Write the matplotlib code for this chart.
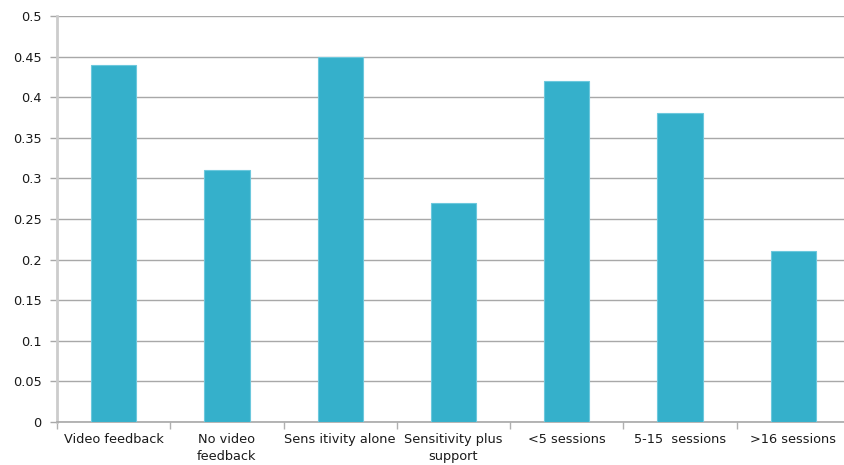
import matplotlib.pyplot as plt
import numpy as np

# Effect sizes by intervention group
categories = ['Video feedback', 'No video\nfeedback', 'Sens itivity alone',
              'Sensitivity plus\nsupport', '<5 sessions', '5-15  sessions',
              '>16 sessions']
effect = [0.44, 0.31, 0.45, 0.27, 0.42, 0.38, 0.21]
yticks = [0, 0.05, 0.1, 0.15, 0.2, 0.25, 0.3, 0.35, 0.4, 0.45, 0.5]
ytick_labels = ['0', '0.05', '0.1', '0.15', '0.2', '0.25', '0.3', '0.35',
                '0.4', '0.45', '0.5']

W, H = 844, 465
fig = plt.figure(figsize=(W / 100, H / 100), dpi=100)
ax = fig.add_axes([57 / W, 43 / H, 793 / W, 406 / H])

x = np.arange(len(categories))
ax.bar(x, effect, width=0.4, color='#35b0cb', edgecolor='#6cc8dd',
       linewidth=0.8, zorder=3)

ax.set_xlim(-0.5, len(categories) - 0.5)
ax.set_ylim(0, 0.5)
ax.set_yticks(yticks)
ax.set_yticklabels(ytick_labels, fontsize=9.3, color='#1a1a1a')
ax.yaxis.grid(True, color='#a8a8a8', linewidth=1.0, zorder=0)
ax.tick_params(axis='y', length=5, width=1, color='#a8a8a8', pad=6)

# category labels centred, tick marks at boundaries
ax.set_xticks(x)
ax.set_xticklabels(categories, fontsize=9.3, color='#1a1a1a', linespacing=1.35)
ax.tick_params(axis='x', which='major', length=0, pad=8)
ax.set_xticks(np.arange(len(categories) + 1) - 0.5, minor=True)
ax.tick_params(axis='x', which='minor', length=5, width=1, color='#b0b0b0')

for s in ['top', 'right']:
    ax.spines[s].set_visible(False)
ax.spines['left'].set_color('#cccccc')
ax.spines['left'].set_linewidth(2)
ax.spines['bottom'].set_color('#a8a8a8')
ax.spines['bottom'].set_linewidth(1.2)

fig.savefig('out.png', dpi=100)
